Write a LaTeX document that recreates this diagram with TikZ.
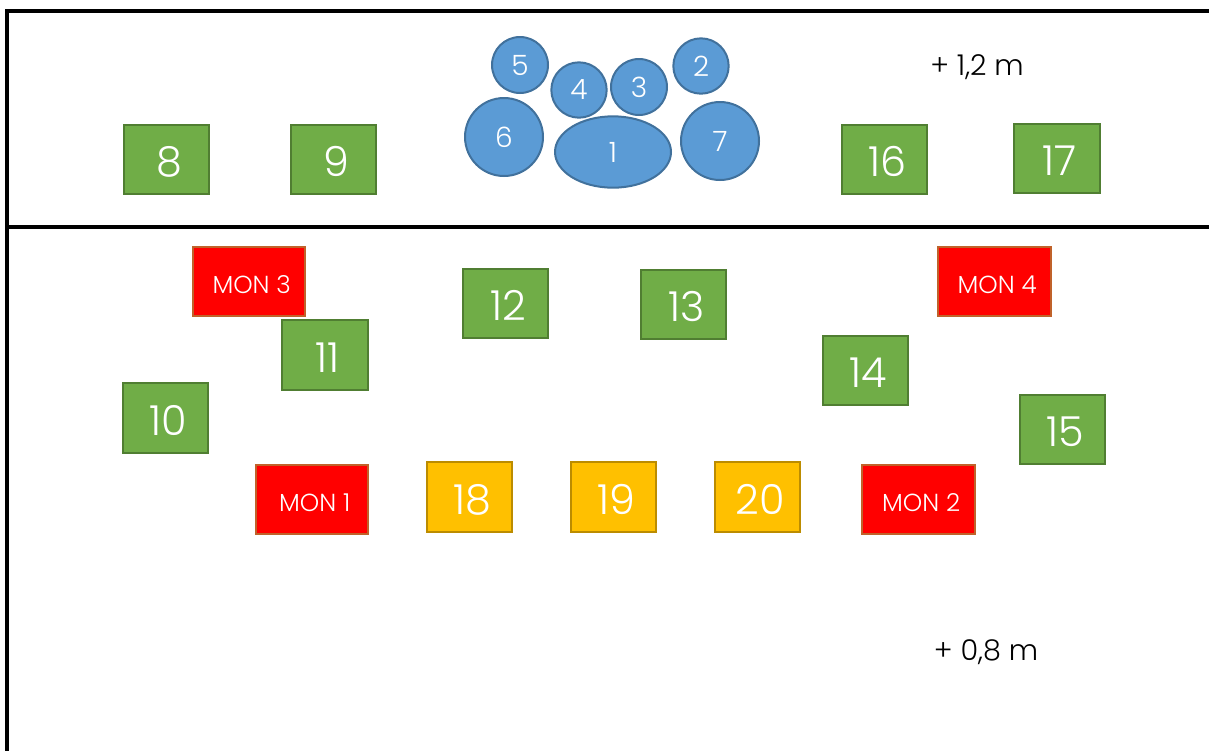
\documentclass[tikz,border=0pt]{standalone}
\usepackage{fontspec}
\setmainfont{Poppins Light}
\usetikzlibrary{shapes.geometric}
\definecolor{gfill}{HTML}{70AD47}
\definecolor{gline}{HTML}{507E32}
\definecolor{rfill}{HTML}{FF0000}
\definecolor{rline}{HTML}{C0622A}
\definecolor{yfill}{HTML}{FFC000}
\definecolor{yline}{HTML}{BC8C00}
\definecolor{bfill}{HTML}{5B9BD5}
\definecolor{bline}{HTML}{41719C}
\begin{document}
\begin{tikzpicture}[x=0.75pt,y=-0.75pt,
  wall/.style={line width=2.6pt,black},
  basebox/.style={draw,line width=1.5pt,inner sep=0pt,text=white,minimum width=64pt,minimum height=52pt,
    text height=25.5pt,text depth=0pt,font=\fontsize{31}{31}\selectfont,
    execute at begin node=\hspace*{4pt}},
  gbox/.style={basebox,fill=gfill,draw=gline},
  ybox/.style={basebox,fill=yfill,draw=yline},
  mbox/.style={basebox,fill=rfill,draw=rline,minimum width=84.5pt,text height=18pt,font=\fontsize{18.5}{18.5}\selectfont},
  seat/.style={circle,draw=bline,fill=bfill,line width=1.5pt,inner sep=0pt,text=white,font=\fontsize{21}{21}\selectfont},
  lbl/.style={font=\fontsize{21.5}{21.5}\selectfont,text=black}]
\useasboundingbox (0,0) rectangle (1209,751);
% walls
\draw[wall] (5,11) -- (1209,11);
\draw[wall] (7,10) -- (7,751);
\draw[wall] (7,227) -- (1209,227);
% upper level
\node[gbox] (b8) at (166.5,159.5) {8};
\node[gbox] (b9) at (333.5,159.5) {9};
\node[gbox] (b16) at (884.5,159.5) {16};
\node[gbox] (b17) at (1057,158.5) {17};
\node[seat,minimum size=42pt] (c5) at (520,65) {5};
\node[seat,minimum size=41.5pt] (c4) at (579,90) {4};
\node[seat,minimum size=42pt] (c3) at (639,87) {3};
\node[seat,minimum size=41.5pt] (c2) at (701,66) {2};
\node[seat,minimum size=58.5pt] (c6) at (504,137) {6};
\node[seat,minimum size=58.5pt] (c7) at (720,141) {7};
\node[seat,ellipse,minimum width=87pt,minimum height=53.5pt] (c1) at (613,152) {1};
\node[lbl] (h12) at (977,67) {+ 1,2 m};
% lower level
\node[mbox] (m3) at (249,281.5) {MON 3};
\node[mbox] (m4) at (994.5,281.5) {MON 4};
\node[mbox] (m1) at (312,499.5) {MON 1};
\node[mbox] (m2) at (918.5,499.5) {MON 2};
\node[gbox] (b11) at (325,355) {11};
\node[gbox] (b12) at (505.5,303.5) {12};
\node[gbox] (b13) at (683.5,304.5) {13};
\node[gbox] (b14) at (865.5,370.5) {14};
\node[gbox] (b15) at (1062.5,429.5) {15};
\node[gbox] (b10) at (165.5,418) {10};
\node[ybox] (b18) at (469.5,497) {18};
\node[ybox] (b19) at (613.5,497) {19};
\node[ybox] (b20) at (757.5,497) {20};
\node[lbl] (h08) at (986,652) {+ 0,8 m};
\end{tikzpicture}
\end{document}
